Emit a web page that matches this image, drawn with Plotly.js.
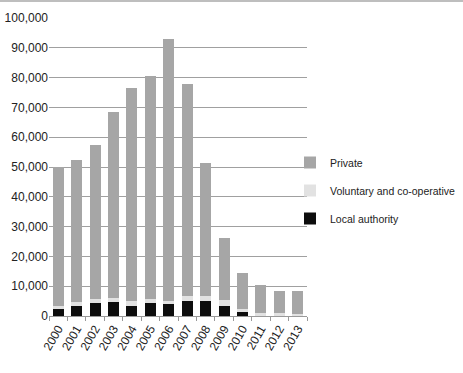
<!DOCTYPE html>
<html><head><meta charset="utf-8">
<script src="https://cdn.plot.ly/plotly-3.0.1.min.js"></script>
<style>html,body{margin:0;padding:0;background:#fff}#chart{width:463px;height:373px}</style>
</head><body><div id="chart"></div>
<script>
const years = ["2000","2001","2002","2003","2004","2005","2006","2007","2008","2009","2010","2011","2012","2013"];
const localAuthority = [2300,3500,4300,4700,3500,4300,4000,4900,4900,3500,1400,100,100,100];
const voluntary = [1000,1300,1300,1300,1500,1300,1200,1700,1700,1800,1000,1000,900,700];
const privateSector = [46700,47500,51800,62500,71500,74900,87800,71100,44700,20900,12000,9300,7400,7500];
const yTicks = [0,10000,20000,30000,40000,50000,60000,70000,80000,90000,100000];

const fam = '"Liberation Sans", Arial, sans-serif';
const tickFont = {family: fam, size: 12, color: '#222'};
const legFont = {family: fam, size: 10.5, color: '#222'};
const traces = [
  {type:'bar', name:'Local authority', x:years, y:localAuthority, marker:{color:'#0d0d0d'}, legendgroup:'c', legendrank:3},
  {type:'bar', name:'Voluntary and co-operative', x:years, y:voluntary, marker:{color:'#e2e2e2'}, legendgroup:'b', legendrank:2},
  {type:'bar', name:'Private', x:years, y:privateSector, marker:{color:'#a6a6a6'}, legendgroup:'a', legendrank:1}
];
const W = 258, H = 298;
const layout = {
  width:463, height:373,
  margin:{l:49, r:156, t:18, b:57, pad:0, autoexpand:false},
  barmode:'stack', bargap:0.4,
  paper_bgcolor:'#fff', plot_bgcolor:'#fff',
  font: tickFont,
  showlegend:true,
  legend:{x:(290-49)/W, y:(316-148)/H, xanchor:'left', yanchor:'top', traceorder:'grouped',
          font:legFont, itemwidth:30, tracegroupgap:9, bgcolor:'rgba(0,0,0,0)'},
  xaxis:{type:'category', tickangle:-60, showgrid:false, showline:true, linecolor:'#999', linewidth:1,
         ticks:'outside', ticklen:4, tickcolor:'#999', tickson:'boundaries',
         tickfont:tickFont, fixedrange:true},
  yaxis:{range:[0,100000], tickvals:yTicks, tickformat:',d', showgrid:true, gridcolor:'#a0a0a0',
         gridwidth:1, zeroline:false, showline:false, ticks:'', tickfont:tickFont, fixedrange:true},
  shapes:[{type:'line', xref:'paper', yref:'paper', x0:-49/W, x1:414/W, y0:315/H, y1:315/H,
           line:{color:'#a8a8a8', width:1.5}}]
};
Plotly.newPlot('chart', traces, layout, {displayModeBar:false, staticPlot:true});
</script></body></html>
